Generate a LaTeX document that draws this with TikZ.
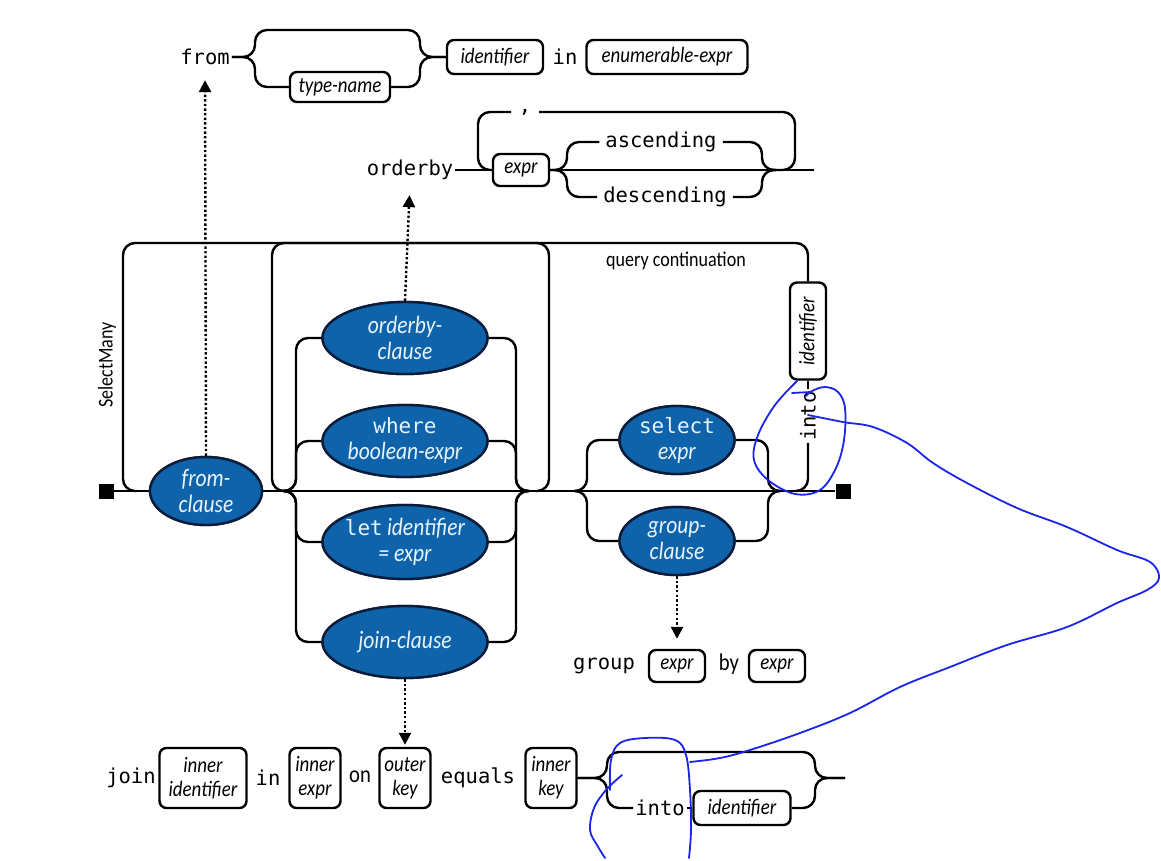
\documentclass[tikz,border=0pt]{standalone}
\usepackage{fontspec}
\setmainfont{Carlito}[FakeStretch=0.86]
\newfontfamily\monof{DejaVu Sans Mono}
\usetikzlibrary{shapes.geometric,arrows.meta}
\definecolor{ellblue}{RGB}{14,99,170}
\definecolor{elledge}{RGB}{10,28,58}
\definecolor{elltxt}{RGB}{232,244,255}
\definecolor{penblue}{RGB}{28,36,232}
\begin{document}
\begin{tikzpicture}[x=1pt,y=-1pt,
  wire/.style={line width=2.4pt, rounded corners=12pt},
  kw/.style={font=\monof\fontsize{20.5}{24}\selectfont, inner sep=2pt},
  lbl/.style={font=\fontsize{24}{27}\selectfont, inner sep=2pt},
  small/.style={font=\fontsize{21}{24}\selectfont, inner sep=2pt},
  tbox/.style={draw, line width=2.4pt, rounded corners=7pt, font=\itshape\fontsize{22}{24}\selectfont, minimum height=32pt, inner xsep=4pt, inner ysep=2pt, align=center},
  ell/.style={ellipse, draw=elledge, fill=ellblue, line width=2.4pt, inner sep=0pt},
  elltext/.style={text=elltxt, font=\itshape\fontsize{25}{26}\selectfont, align=center, inner sep=0pt},
  dotarrow/.style={line width=2.4pt, dash pattern=on 2.4pt off 2.2pt, -{Triangle[length=12pt,width=12pt]}},
  pen/.style={draw=penblue, line width=1.8pt, line cap=round, line join=round},
  term/.style={fill=black, minimum size=15pt, inner sep=0pt}
]
\useasboundingbox (0,0) rectangle (1161,861);
\fill[white] (0,0) rectangle (1161,861);

% ---------- from rule ----------
\node[kw] (fromkw) at (205,57) {from};
\node[tbox, minimum width=100pt, minimum height=30pt] (tn) at (340,87) {type-name};
\node[tbox, minimum width=96pt, minimum height=34pt] (fid) at (495,57) {identifier};
\node[kw] (inkw) at (565,57) {in};
\node[tbox, minimum width=161pt, minimum height=34pt] (enx) at (667,57) {enumerable-expr};
\coordinate (fbL) at (255,30);
\coordinate (fbR) at (420,57);
\draw[wire] (fromkw.east) -| (fbL) -| (fbR) -- (fid.west);
\draw[wire] (fromkw.east) -| (fbL|-tn.west) -- (tn.west);
\draw[wire] (tn.east) -| (fbR) -- (fid.west);

% ---------- orderby rule ----------
\node[kw] (obkw) at (410,170) {orderby};
\node[tbox, minimum width=56pt] (ex) at (521,170) {expr};
\node[kw] (cm) at (525,112) {,};
\coordinate (cmL) at (511,112);
\coordinate (cmR) at (539,112);
\coordinate (oloopL) at (478,112);
\coordinate (oloopR) at (795,170);
\coordinate (omerge) at (770,170);
\node[kw, inner xsep=6pt] (asc) at (661,142) {ascending};
\node[kw, inner xsep=6pt] (desc) at (665,197) {descending};
\coordinate (adL) at (567,170);
\coordinate (adR) at (762,170);
\coordinate (adM) at (776,170);
\coordinate (oend) at (814,170);
\draw[wire] (obkw.east) -- (ex.west);
\draw[wire] (ex.west) -| (oloopL) -- (cmL);
\draw[wire] (cmR) -| (oloopR) -- (omerge);
\draw[wire] (ex.east) -- (oend);
\draw[wire] (ex.east) -| (adL|-asc.west) -- (asc.west);
\draw[wire] (asc.east) -| (adR) -- (adM);
\draw[wire] (ex.east) -| (adL|-desc.west) -- (desc.west);
\draw[wire] (desc.east) -| (adR) -- (adM);

% ---------- main rule ----------
\coordinate (oLj) at (137,491);
\coordinate (oTL) at (123,243);
\coordinate (iLj) at (285,491);
\coordinate (iTL) at (272,243);
\coordinate (iBR) at (549,491);
\coordinate (iRj) at (536,491);
\coordinate (jL) at (283,491);
\coordinate (xL) at (296,0);
\coordinate (xR) at (516,0);
\coordinate (jR) at (529,491);
\coordinate (jS) at (574,491);
\coordinate (xS) at (587,0);
\coordinate (xT) at (768,0);
\coordinate (jE) at (781,491);
\coordinate (qj) at (795,491);

\node[term] (st) at (106,491) {};
\node[term] (en) at (843,491) {};

\node[ell, minimum width=112pt, minimum height=68pt] (fc) at (206,491) {};
\node[ell, minimum width=165pt, minimum height=72pt] (ob) at (405,338) {};
\node[ell, minimum width=165pt, minimum height=72pt] (wh) at (405,441) {};
\node[ell, minimum width=165pt, minimum height=74pt] (lt) at (405,542) {};
\node[ell, minimum width=165pt, minimum height=72pt] (jn) at (405,642) {};
\node[ell, minimum width=115pt, minimum height=68pt] (se) at (677,440) {};
\node[ell, minimum width=115pt, minimum height=68pt] (gc) at (677,541) {};

\node[tbox, rotate=90, minimum width=97pt, minimum height=36pt] (qid) at (808,331) {identifier};
\node[kw, rotate=90] (qinto) at (808,416) {into};

\draw[wire] (st) -- (fc.west);
\draw[wire] (fc.east) -- (en);
\draw[wire] (oLj) -| (oTL) -| (qid.east);
\draw[wire] (qid.west) -- (qinto.east);
\draw[wire] (qinto.west) |- (qj);
\draw[wire] (iLj) -| (iTL) -| (iBR) -- (iRj);

\draw[wire] (jL) -| (xL|-ob.west) -- (ob.west);
\draw[wire] (jL) -| (xL|-wh.west) -- (wh.west);
\draw[wire] (jL) -| (xL|-lt.west) -- (lt.west);
\draw[wire] (jL) -| (xL|-jn.west) -- (jn.west);
\draw[wire] (ob.east) -| (xR|-jR) -- (jR);
\draw[wire] (wh.east) -| (xR|-jR) -- (jR);
\draw[wire] (lt.east) -| (xR|-jR) -- (jR);
\draw[wire] (jn.east) -| (xR|-jR) -- (jR);

\draw[wire] (jS) -| (xS|-se.west) -- (se.west);
\draw[wire] (jS) -| (xS|-gc.west) -- (gc.west);
\draw[wire] (se.east) -| (xT|-jE) -- (jE);
\draw[wire] (gc.east) -| (xT|-jE) -- (jE);

% redraw ellipses on top
\node[ell, minimum width=112pt, minimum height=68pt] (fc2) at (fc) {};
\node[ell, minimum width=165pt, minimum height=72pt] (ob2) at (ob) {};
\node[ell, minimum width=165pt, minimum height=72pt] (wh2) at (wh) {};
\node[ell, minimum width=165pt, minimum height=74pt] (lt2) at (lt) {};
\node[ell, minimum width=165pt, minimum height=72pt] (jn2) at (jn) {};
\node[ell, minimum width=115pt, minimum height=68pt] (se2) at (se) {};
\node[ell, minimum width=115pt, minimum height=68pt] (gc2) at (gc) {};

\node[elltext] (fct) at (fc) {from-\\clause};
\node[elltext] (obt) at (ob) {orderby-\\clause};
\node[elltext] (wht) at (wh) {{\monof\upshape\fontsize{21}{26}\selectfont where}\\boolean-expr};
\node[elltext] (ltt) at (lt) {{\monof\upshape\fontsize{21}{26}\selectfont let}\,identifier\\= expr};
\node[elltext] (jnt) at (jn) {join-clause};
\node[elltext] (set) at (se) {{\monof\upshape\fontsize{21}{26}\selectfont select}\\expr};
\node[elltext] (gct) at (gc) {group-\\clause};

\node[small, rotate=90] (sm) at (107,365) {SelectMany};
\node[small] (qc) at (676,261) {query continuation};

% ---------- group row ----------
\node[kw] (grp) at (604,666) {group};
\node[tbox, minimum width=56pt] (gx1) at (677,666) {expr};
\node[lbl] (by) at (729,664) {by};
\node[tbox, minimum width=56pt] (gx2) at (777,666) {expr};

% ---------- join row ----------
\node[kw] (jkw) at (131,778) {join};
\node[tbox, minimum width=87pt, minimum height=60pt] (iid) at (203,778) {inner\\identifier};
\node[kw] (jin) at (268,778) {in};
\node[tbox, minimum width=51pt, minimum height=60pt] (iex) at (315,778) {inner\\expr};
\node[lbl] (on) at (360,777) {on};
\node[tbox, minimum width=51pt, minimum height=60pt] (okey) at (405,778) {outer\\key};
\node[kw] (eq) at (478,778) {equals};
\node[tbox, minimum width=51pt, minimum height=60pt] (ikey) at (551,778) {inner\\key};
\coordinate (bbL) at (607,752);
\coordinate (bbR) at (815,778);
\coordinate (bend) at (845,778);
\node[kw] (jinto) at (660,808) {into};
\node[tbox, minimum width=97pt, minimum height=34pt] (jid) at (742,808) {identifier};
\draw[wire] (ikey.east) -| (bbL) -| (bbR) -- (bend);
\draw[wire] (ikey.east) -| (bbL|-jinto.west) -- (jinto.west);
\draw[wire] (jinto.east) -- (jid.west);
\draw[wire] (jid.east) -| (bbR) -- (bend);

% ---------- dotted arrows ----------
\draw[dotarrow, shorten >=13pt] (fc.north) -- (fromkw.south);
\draw[dotarrow, shorten >=13pt] (ob.north) -- (obkw.south);
\draw[dotarrow, shorten >=10pt] (gc.south) -- (gx1.north);
\draw[dotarrow, shorten >=2pt] (jn.south) -- (okey.north);

% ---------- hand-drawn pen strokes ----------
\draw[pen] plot[smooth, tension=0.6] coordinates {(797,381) (775,405) (758,435) (754,460) (768,480) (795,494) (820,490) (836,468) (844,440) (845,408) (838,392) (825,387) (812,391) (806,396)};
\draw[pen] (792,393) -- (811,392);
\draw[pen] plot[smooth, tension=0.6] coordinates {(808,415) (843,422) (873,427) (907,443) (933,463) (967,483) (1017,508) (1067,527) (1117,550) (1150,562) (1159,578) (1147,590) (1117,603) (1067,627) (1007,645) (950,667) (900,687) (850,713) (800,733) (750,750) (720,758) (690,762)};
\draw[pen] plot[smooth, tension=0.6] coordinates {(610,790) (611,760) (620,743) (645,738) (675,740) (686,755) (690,790) (691,830) (689,858)};
\draw[pen] plot[smooth, tension=0.6] coordinates {(622,775) (606,790) (594,808) (590,830) (597,845) (605,858)};
\end{tikzpicture}
\end{document}
